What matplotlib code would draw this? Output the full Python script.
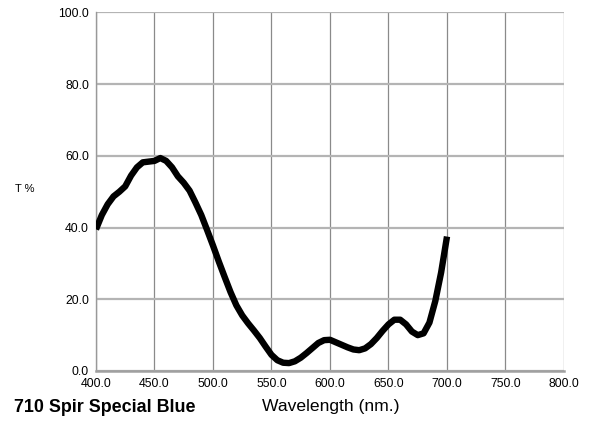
import matplotlib
matplotlib.use('Agg')
import matplotlib.pyplot as plt
import numpy as np

plt.rcParams['font.family'] = ['Liberation Sans', 'DejaVu Sans']

wavelength = np.array([400, 405, 410, 415, 420, 425, 430, 435, 440, 445, 450, 455, 460, 465, 470, 475, 480,
                       485, 490, 495, 500, 505, 510, 515, 520, 525, 530, 535, 540, 545, 550, 555, 560, 565,
                       570, 575, 580, 585, 590, 595, 600, 605, 610, 615, 620, 625, 630, 635, 640, 645, 650,
                       655, 660, 665, 670, 675, 680, 685, 690, 695, 700])
transmission = np.array([39.5, 43.5, 46.5, 48.7, 50.0, 51.5, 54.5, 56.8, 58.2, 58.4, 58.6, 59.4, 58.6, 56.8,
                         54.3, 52.5, 50.3, 47.0, 43.5, 39.3, 35.0, 30.5, 26.2, 22.0, 18.3, 15.5, 13.3, 11.3,
                         9.2, 6.8, 4.5, 3.0, 2.3, 2.2, 2.7, 3.7, 5.0, 6.4, 7.8, 8.6, 8.7, 8.0, 7.3, 6.6, 6.0,
                         5.8, 6.3, 7.5, 9.2, 11.2, 13.0, 14.3, 14.3, 13.0, 11.0, 10.0, 10.5, 13.5, 19.5, 27.5,
                         37.5])
x_ticks = [400, 450, 500, 550, 600, 650, 700, 750, 800]
y_ticks = [0, 20, 40, 60, 80, 100]

fig = plt.figure(figsize=(5.95, 4.22), dpi=100)
ax = fig.add_axes([0.1613, 0.1209, 0.7866, 0.8495])

for x in x_ticks:
    ax.axvline(x, color='#8a8a8a', lw=0.9, zorder=1)
for y in y_ticks:
    ax.axhline(y, color='#b4b4b4', lw=1.6, zorder=1)

ax.plot(wavelength, transmission, color='black', lw=4.6, solid_capstyle='butt',
        solid_joinstyle='round', zorder=3)

ax.set_xlim(400, 800)
ax.set_ylim(0, 100)
ax.set_xticks(x_ticks)
ax.set_xticklabels(['%.1f' % v for v in x_ticks])
ax.set_yticks(y_ticks)
ax.set_yticklabels(['%.1f' % v for v in y_ticks])
ax.tick_params(length=0, labelsize=8.8, pad=5)
for side in ['top', 'right']:
    ax.spines[side].set_visible(False)
ax.spines['left'].set_color('#999999')
ax.spines['left'].set_linewidth(1.0)
ax.spines['bottom'].set_color('#a0a0a0')
ax.spines['bottom'].set_linewidth(1.8)

fig.text(15 / 595, 1 - 189 / 422, 'T %', fontsize=8, va='center', ha='left')
fig.text(14 / 595, 1 - 412 / 422, '710 Spir Special Blue', fontsize=12.9, fontweight='bold',
         va='baseline', ha='left')
fig.text(331 / 595, 1 - 411 / 422, 'Wavelength (nm.)', fontsize=12.6, va='baseline', ha='center')

fig.savefig('out.png', dpi=100)
